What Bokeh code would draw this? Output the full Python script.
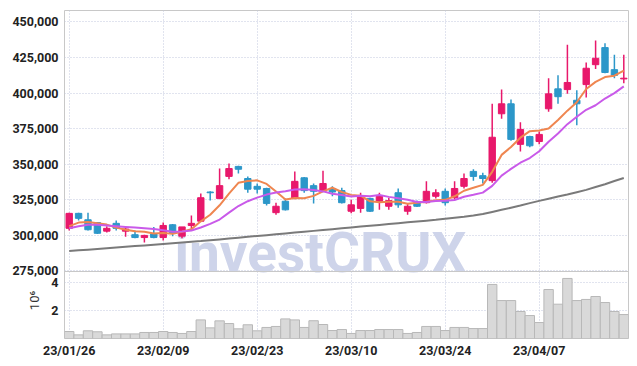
from bokeh.plotting import figure
from bokeh.models import (Range1d, FixedTicker, NumeralTickFormatter, ColumnDataSource, Label, Span)
from bokeh.embed import file_html
from bokeh.resources import INLINE

# ---------------- data ----------------
dates = ["23/01/26", "23/01/27", "23/01/30", "23/01/31", "23/02/01", "23/02/02", "23/02/03", "23/02/06",
         "23/02/07", "23/02/08", "23/02/09", "23/02/10", "23/02/13", "23/02/14", "23/02/15", "23/02/16",
         "23/02/17", "23/02/20", "23/02/21", "23/02/22", "23/02/23", "23/02/24", "23/02/27", "23/02/28",
         "23/03/02", "23/03/03", "23/03/06", "23/03/07", "23/03/08", "23/03/09", "23/03/10", "23/03/13",
         "23/03/14", "23/03/15", "23/03/16", "23/03/17", "23/03/20", "23/03/21", "23/03/22", "23/03/23",
         "23/03/24", "23/03/27", "23/03/28", "23/03/29", "23/03/30", "23/03/31", "23/04/03", "23/04/04",
         "23/04/05", "23/04/06", "23/04/07", "23/04/10", "23/04/11", "23/04/12", "23/04/13", "23/04/14",
         "23/04/17", "23/04/18", "23/04/19", "23/04/20"]

opens = [305000, 315500, 311000, 309000, 303000, 308500, 303000, 300500, 298500, 301000,
         298500, 307500, 299500, 307000, 310000, 330500, 326000, 341500, 348500, 340000,
         334500, 333000, 316000, 324000, 326000, 340500, 335000, 331000, 333000, 331500,
         317000, 319000, 326000, 324000, 320500, 330000, 317000, 323000, 323000, 327500,
         331000, 326500, 334500, 345000, 342000, 338500, 385500, 392500, 364000, 369500,
         366000, 389000, 403000, 402500, 395000, 406000, 420000, 432000, 416500, 410000]
highs = [316000, 316000, 316000, 309500, 306500, 310500, 306000, 303500, 300500, 306000,
         309000, 308000, 306000, 314000, 329500, 331000, 347000, 350500, 349000, 341500,
         336500, 333500, 323000, 326000, 345000, 341000, 336500, 345500, 334500, 333500,
         325000, 330000, 326500, 330000, 326500, 333000, 322500, 324500, 338000, 332500,
         333000, 338000, 343500, 346500, 344000, 392500, 402500, 395500, 379500, 370000,
         373000, 410500, 412500, 434000, 402000, 421500, 437000, 435000, 427000, 427000]
lows = [303500, 310500, 303500, 301000, 302000, 303500, 299000, 298000, 295000, 298000,
        296500, 299500, 298000, 304000, 309500, 324500, 325500, 339500, 343500, 330000,
        329500, 321000, 314500, 317500, 325500, 330000, 322500, 330500, 327500, 322500,
        315500, 316000, 316500, 318000, 318000, 319500, 314500, 320000, 322500, 326000,
        321000, 325000, 333000, 338500, 336500, 337000, 382000, 366500, 359000, 362000,
        364000, 387000, 392500, 399500, 377500, 397000, 417000, 414000, 410500, 407000]
closes = [315500, 312000, 304000, 301500, 305000, 305000, 304500, 298500, 300000, 298500,
          307000, 301500, 306000, 308500, 326500, 330000, 335000, 347000, 346500, 332500,
          332500, 322500, 320500, 318000, 338000, 331500, 331000, 336500, 330500, 323000,
          321500, 328000, 317000, 327500, 324500, 321500, 320500, 320500, 331000, 330000,
          323000, 333000, 340000, 341500, 340000, 369000, 392500, 367500, 374500, 363000,
          371000, 399500, 397500, 407500, 392500, 417500, 424500, 414500, 412500, 410500]

ma5 = [306500, 309000, 309500, 308500, 307600, 305500, 304000, 302900, 302600, 301300,
       301700, 301100, 302600, 304300, 309900, 314500, 321200, 329400, 337000, 338200,
       338700, 336200, 330900, 325200, 326300, 326100, 327800, 331000, 333500, 330500,
       328500, 327900, 324000, 323400, 323700, 323700, 322200, 322900, 323600, 324700,
       325000, 327500, 331400, 333500, 335500, 344700, 356600, 362100, 368700, 373300,
       373700, 375100, 381100, 387700, 393600, 402900, 407900, 411300, 412300, 415900]
ma10 = [305000, 306500, 307500, 307500, 307000, 306500, 306000, 305500, 305000, 304450,
        303600, 302550, 302750, 303450, 305600, 308100, 311150, 316000, 320650, 324050,
        326600, 328700, 330150, 331100, 332250, 332400, 332000, 330950, 329350, 328400,
        327300, 327850, 327500, 328450, 327100, 326100, 325050, 323450, 323500, 324200,
        324350, 324850, 327150, 328550, 330100, 334850, 342050, 346750, 351100, 354400,
        359200, 365850, 371600, 378200, 383450, 388300, 391500, 396200, 400000, 404750]
ma_long = [289000, 289500, 290000, 290500, 291000, 291500, 292000, 292500, 293000, 293500,
           294000, 294500, 295000, 295500, 296000, 296600, 297200, 297800, 298400, 299000,
           299600, 300200, 300800, 301400, 302000, 302600, 303200, 303800, 304400, 305000,
           305600, 306200, 306800, 307400, 308000, 308600, 309200, 309800, 310400, 311000,
           311700, 312400, 313100, 314000, 315000, 316500, 318000, 319500, 321000, 322700,
           324300, 325800, 327300, 328800, 330400, 332000, 334000, 336000, 338200, 340400]

volumes = [0.50, 0.26, 0.55, 0.48, 0.26, 0.33, 0.33, 0.33, 0.43, 0.43,
           0.50, 0.43, 0.36, 0.50, 1.33, 0.76, 1.26, 1.07, 0.69, 0.98,
           0.55, 0.79, 0.86, 1.40, 1.33, 0.79, 1.27, 1.00, 0.57, 0.64,
           0.36, 0.57, 0.57, 0.64, 0.64, 0.64, 0.36, 0.43, 0.86, 0.86,
           0.57, 0.79, 0.79, 0.71, 0.71, 3.86, 2.71, 2.71, 1.93, 1.64,
           1.14, 3.50, 2.45, 4.29, 2.71, 2.79, 3.00, 2.57, 1.93, 1.71]  # x 10^6

price_ticks = [275000, 300000, 325000, 350000, 375000, 400000, 425000, 450000]
volume_ticks = [2, 4]
volume_tick_labels = ["2", "4"]
volume_unit = "10\u2076"
date_tick_idx = [0, 10, 20, 30, 40, 50]

# ---------------- style ----------------
FONT = "Roboto"
FSIZE = "12.5px"
UP = "#e8186b"
DOWN = "#2c97c9"
GRID = "#c3c9de"
OUTLINE = "#c8c8c8"
TXT = "#222222"

# price panel occupies the upper part of the frame, volume panel the lower part
PRICE_LO, PRICE_HI = 274650, 458080      # visible price band of the upper panel
FRAME_PRICE_LO = 227560                  # price value at the very bottom of the frame
VOL_RANGE_END = 23.43                    # volume (x10^6) value at the very top of the frame
VOL_SCALE = (PRICE_HI - FRAME_PRICE_LO) / VOL_RANGE_END


def vol_pos(v):
    """position of a volume value on the shared (price) axis"""
    return round(FRAME_PRICE_LO + v * VOL_SCALE, 3)


n = len(closes)
xs = list(range(n))
up_idx = [i for i in xs if closes[i] >= opens[i]]
dn_idx = [i for i in xs if closes[i] < opens[i]]


def sub(idx):
    return ColumnDataSource(dict(
        x=idx,
        hi=[highs[i] for i in idx],
        lo=[lows[i] for i in idx],
        top=[max(opens[i], closes[i]) for i in idx],
        bot=[min(opens[i], closes[i]) for i in idx],
    ))


p = figure(width=637, height=366, x_range=Range1d(-0.5, 59.5),
           y_range=Range1d(FRAME_PRICE_LO, PRICE_HI),
           output_backend="svg", toolbar_location=None,
           min_border_left=64, min_border_right=9, min_border_top=10, min_border_bottom=28)
p.extra_y_ranges = {"vol": Range1d(0, VOL_RANGE_END)}
p.outline_line_color = OUTLINE
p.background_fill_color = "white"
p.border_fill_color = "white"

vol_tick_pos = [vol_pos(t) for t in volume_ticks]

# axes
p.yaxis.ticker = FixedTicker(ticks=price_ticks + vol_tick_pos)
p.yaxis.formatter = NumeralTickFormatter(format="0,0")
p.yaxis.major_label_overrides = {pos: lab for pos, lab in zip(vol_tick_pos, volume_tick_labels)}
p.xaxis.ticker = FixedTicker(ticks=date_tick_idx)
p.xaxis.major_label_overrides = {i: dates[i] for i in date_tick_idx}
for ax in (p.xaxis, p.yaxis):
    ax.axis_line_color = None
    ax.major_tick_line_color = None
    ax.minor_tick_line_color = None
    ax.major_tick_out = 0
    ax.major_tick_in = 0
    ax.major_label_text_font = FONT
    ax.major_label_text_font_size = FSIZE
    ax.major_label_text_font_style = "bold"
    ax.major_label_text_color = TXT
p.yaxis.major_label_standoff = 6
p.xaxis.major_label_standoff = 4

# unit label of the volume panel: the axis label, pushed down beside the volume ticks
# (the trailing em spaces shift the centred label into the lower panel)
p.yaxis.axis_label = volume_unit + "\u2003" * 19
p.yaxis.axis_label_text_font = FONT
p.yaxis.axis_label_text_font_size = "13px"
p.yaxis.axis_label_text_font_style = "normal"
p.yaxis.axis_label_text_color = "#333333"
p.yaxis.axis_label_standoff = -33

# grids
p.ygrid.ticker = FixedTicker(ticks=price_ticks + vol_tick_pos)
p.xgrid.ticker = FixedTicker(ticks=date_tick_idx)
for g in (p.xgrid, p.ygrid):
    g.grid_line_color = GRID
    g.grid_line_dash = "1 2"
    g.grid_line_width = 1

# panel separator
p.add_layout(Span(location=PRICE_LO, dimension="width", line_color=OUTLINE, line_width=1))

# watermark
p.add_layout(Label(x=11.2, y=PRICE_LO, y_offset=18, text="investCRUX", text_font=FONT,
                   text_font_size="55px", text_font_style="bold", text_color="#ced4ea",
                   text_baseline="alphabetic", level="underlay"))

# volume bars
p.vbar(x=xs, top=volumes, width=1.0, bottom=0, y_range_name="vol",
       fill_color="#d9d9d9", line_color="#b8b8b8", line_width=1)

# long moving average
p.line(xs, ma_long, line_color="#7a7a7a", line_width=2)

# candles
for idx, col in ((up_idx, UP), (dn_idx, DOWN)):
    src = sub(idx)
    p.segment(x0="x", y0="hi", x1="x", y1="lo", source=src, line_color=col, line_width=1.5)
    p.vbar(x="x", width=0.68, top="top", bottom="bot", source=src,
           fill_color=col, line_color=col, line_width=1)

# short moving averages
p.line(xs, ma5, line_color="#ef8650", line_width=2)
p.line(xs, ma10, line_color="#c95ae9", line_width=2)

open("out.html", "w").write(file_html(p, INLINE))
